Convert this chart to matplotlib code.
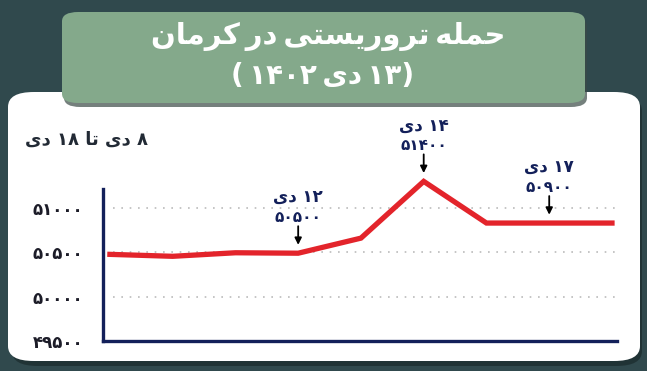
import numpy as np
import matplotlib
matplotlib.use('Agg')
import matplotlib.pyplot as plt
from matplotlib.patches import FancyBboxPatch

# Persian text is written in visual order with presentation forms
# (matplotlib does no arabic shaping / bidi)
DEY = '\uFEEF\uFEA9'                       # دی
TA = '\uFE8E\uFE97'                        # تا
sp = '\u2009'
title1 = ('\uFEE5\uFE8E\uFEE3\uFEAE\uFB90' + sp + '\uFEAD\uFEA9' + sp
          + '\uFEF0\uFE98\uFEB4\uFEF3\uFEAD\uFEED\uFEAE\uFE97' + sp
          + '\uFEEA\uFEE0\uFEE4\uFEA3')    # حمله تروریستی در کرمان
title2 = '(' + sp + '۱۴۰۲' + sp + DEY + sp + '۱۳)'   # (۱۳ دی ۱۴۰۲)
subtitle = DEY + ' ۱۸ ' + TA + ' ' + DEY + ' ۸'   # ۸ دی تا ۱۸ دی

# data
values = [50477, 50455, 50495, 50490, 50660, 51300, 50830, 50830, 50830]
ann_idx = [3, 5, 7]
ann_days = ['12', '14', '17']
ann_vals = ['50500', '51400', '50900']
yticks = [49500, 50000, 50500, 51000]

fa = str.maketrans('0123456789', '۰۱۲۳۴۵۶۷۸۹')

bg = '#30494d'
navy = '#13205a'
red = '#e3242b'

fig = plt.figure(figsize=(6.47, 3.71), dpi=100)
fig.patch.set_facecolor(bg)

def box(x0, y0, w, h, r, **kw):
    p = FancyBboxPatch((x0 / 647, 1 - (y0 + h) / 371), w / 647, h / 371,
                       boxstyle='round,pad=0,rounding_size=%f' % r,
                       transform=fig.transFigure, ec='none', zorder=-1, **kw)
    fig.patches.append(p)

# white panel + shadow, title box + shadow
box(12, 96, 630, 270, 0.04, fc='#1d2e30', alpha=0.8)
box(8, 92, 632, 269, 0.04, fc='white')
box(64, 17, 523, 90, 0.025, fc='#3a4a46', alpha=0.7)
box(62, 12, 523, 91, 0.025, fc='#84a98b')

fig.text(328 / 647, 1 - 36 / 371, title1, color='white', fontsize=21, fontweight='bold',
         ha='center', va='center', family='DejaVu Sans')
fig.text(323 / 647, 1 - 76 / 371, title2, color='white', fontsize=20, fontweight='bold',
         ha='center', va='center', family='DejaVu Sans')
fig.text(86 / 647, 1 - 140 / 371, subtitle, color='#222a35', fontsize=13, fontweight='bold',
         ha='center', va='center', family='DejaVu Sans')

ax = fig.add_axes([103 / 647, 30 / 371, 514 / 647, 152 / 371])
ax.set_zorder(2)
ax.set_facecolor('none')
x = np.arange(len(values))
ax.set_xlim(-0.11, 8.08)
ax.set_ylim(49500, 51214)

for v in yticks[1:]:
    ax.axhline(v, xmin=0.02, xmax=1, color='#bbbbbb', lw=1.2, ls=(0, (1, 4)), zorder=1)

ax.plot(x, values, color=red, lw=3.8, solid_joinstyle='miter', clip_on=False, zorder=3)

for i, d, v in zip(ann_idx, ann_days, ann_vals):
    ax.annotate('', xy=(x[i], values[i]), xytext=(0, 27), textcoords='offset pixels',
                annotation_clip=False,
                arrowprops=dict(arrowstyle='-|>', color='black', lw=1.3,
                                shrinkA=0, shrinkB=6, mutation_scale=10))
    ax.annotate(DEY + ' ' + d.translate(fa), xy=(x[i], values[i]), xytext=(0, 56),
                textcoords='offset pixels', ha='center', va='center', color=navy,
                fontsize=12, fontweight='bold', family='DejaVu Sans', annotation_clip=False)
    ax.annotate(v.translate(fa), xy=(x[i], values[i]), xytext=(0, 36),
                textcoords='offset pixels', ha='center', va='center', color=navy,
                fontsize=11, fontweight='bold', family='DejaVu Sans', annotation_clip=False)

ax.set_yticks(yticks)
ax.set_yticklabels([str(t).translate(fa) for t in yticks], fontsize=12, fontweight='bold',
                   color='#1c1c28', family='DejaVu Sans')
ax.set_xticks([])
ax.tick_params(axis='y', length=0, pad=14)
for s in ['top', 'right']:
    ax.spines[s].set_visible(False)
for s in ['left', 'bottom']:
    ax.spines[s].set_color(navy)
    ax.spines[s].set_linewidth(2.4)

fig.savefig('out.png', dpi=100, facecolor=fig.get_facecolor())
